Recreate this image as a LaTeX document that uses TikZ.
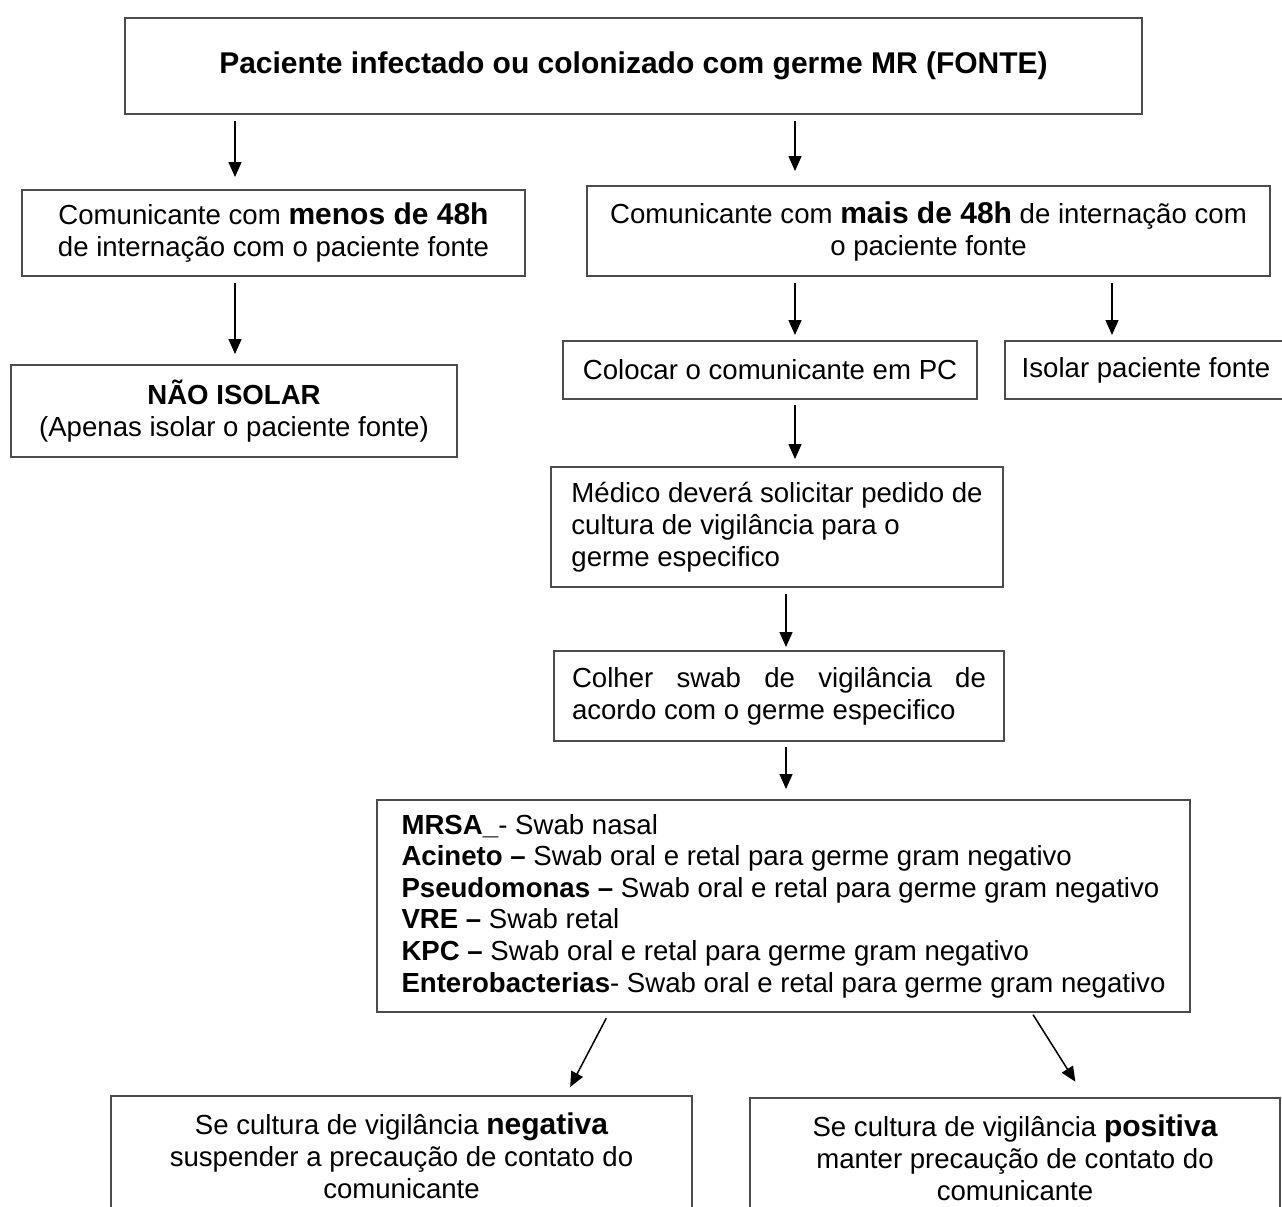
\documentclass[tikz,border=0pt]{standalone}
\usepackage{fontspec}
\setmainfont{Liberation Sans}
\usetikzlibrary{arrows.meta}

\newcommand{\destaque}[1]{{\fontsize{30}{32}\selectfont\bfseries #1}}

\begin{document}
\begin{tikzpicture}[x=1pt, y=-1pt,
		box/.style = {draw=black!70, line width=2pt, inner sep=0pt, align=center, font=\fontsize{27.6}{32}\selectfont},
		arr/.style = {-{Triangle[width=13pt,length=15pt]}, line width=1.5pt, shorten <=6pt, shorten >=8pt}]
		\useasboundingbox (0,0) rectangle (1282,1207);
		\clip (0,0) rectangle (1282,1207);
		\fill[white] (0,0) rectangle (1282,1207);
		
		\coordinate (colL) at (235,0);
		\coordinate (colR) at (795,0);
		\coordinate (colM) at (786,0);
		\coordinate (colE) at (1112,0);
		
		\node[box, minimum width=1017pt, minimum height=96pt, font=\fontsize{30}{36}\selectfont\bfseries] (fonte) at (633.5,66) {Paciente infectado ou colonizado com germe MR (FONTE)};
		
		\node[box, minimum width=503pt, minimum height=86pt] (menos) at (273.5,233) {Comunicante com \destaque{menos de 48h}\\de internação com o paciente fonte};
		\node[box, minimum width=683pt, minimum height=90pt] (mais) at (928.5,231) {Comunicante com \destaque{mais de 48h} de internação com\\o paciente fonte};
		
		\node[box, minimum width=446pt, minimum height=92pt] (naoiso) at (234,411) {\textbf{NÃO ISOLAR}\\(Apenas isolar o paciente fonte)};
		\node[box, minimum width=414pt, minimum height=58pt] (pc) at (770,370) {Colocar o comunicante em PC};
		\node[box, minimum width=282pt, minimum height=58pt] (isola) at (1146,370) {Isolar paciente fonte};
		
		\node[box, align=left, minimum width=452pt, minimum height=120pt] (medico) at (777,527) {Médico deverá solicitar pedido de\\cultura de vigilância para o\\germe especifico};
		\node[box, align=left, minimum width=450pt, minimum height=90pt] (colher) at (779,696) {\makebox[414pt][s]{Colher swab de vigilância de}\\acordo com o germe especifico};
		
		\node[box, align=left, minimum width=813pt, minimum height=212pt, font=\fontsize{27.6}{31.6}\selectfont] (germes) at (783.5,906) {\textbf{MRSA\_}- Swab nasal\\
			\textbf{Acineto –} Swab oral e retal para germe gram negativo\\
			\textbf{Pseudomonas –} Swab oral e retal para germe gram negativo\\
			\textbf{VRE –} Swab retal\\
			\textbf{KPC –} Swab oral e retal para germe gram negativo\\
			\textbf{Enterobacterias}- Swab oral e retal para germe gram negativo};
		
		\node[box, minimum width=581pt, minimum height=120pt] (neg) at (401.5,1156) {Se cultura de vigilância \destaque{negativa}\\suspender a precaução de contato do\\comunicante};
		\node[box, minimum width=530pt, minimum height=120pt] (pos) at (1015,1158) {Se cultura de vigilância \destaque{positiva}\\manter precaução de contato do\\comunicante};
		
		\draw[arr, shorten >=12pt] (fonte.south -| colL) -- (menos.north -| colL);
		\draw[arr, shorten >=14pt] (fonte.south -| colR) -- (mais.north -| colR);
		\draw[arr, shorten >=10pt] (menos.south -| colL) -- (naoiso.north -| colL);
		\draw[arr, shorten >=5pt] (mais.south -| colR) -- (pc.north -| colR);
		\draw[arr, shorten >=5pt] (mais.south -| colE) -- (isola.north -| colE);
		\draw[arr, shorten <=5pt, shorten >=7pt] (pc.south -| colR) -- (medico.north -| colR);
		\draw[arr, shorten >=3pt] (medico.south -| colM) -- (colher.north -| colM);
		\draw[arr, shorten <=5pt, shorten >=10pt] (colher.south -| colM) -- (germes.north -| colM);
		\draw[arr, shorten >=9pt] (germes.south -| 609,0) -- (neg.north -| 566,0);
		\draw[arr, shorten <=2pt, shorten >=18pt] (germes.south -| 1032,0) -- (pos.north -| 1085,0);
	\end{tikzpicture}
\end{document}
